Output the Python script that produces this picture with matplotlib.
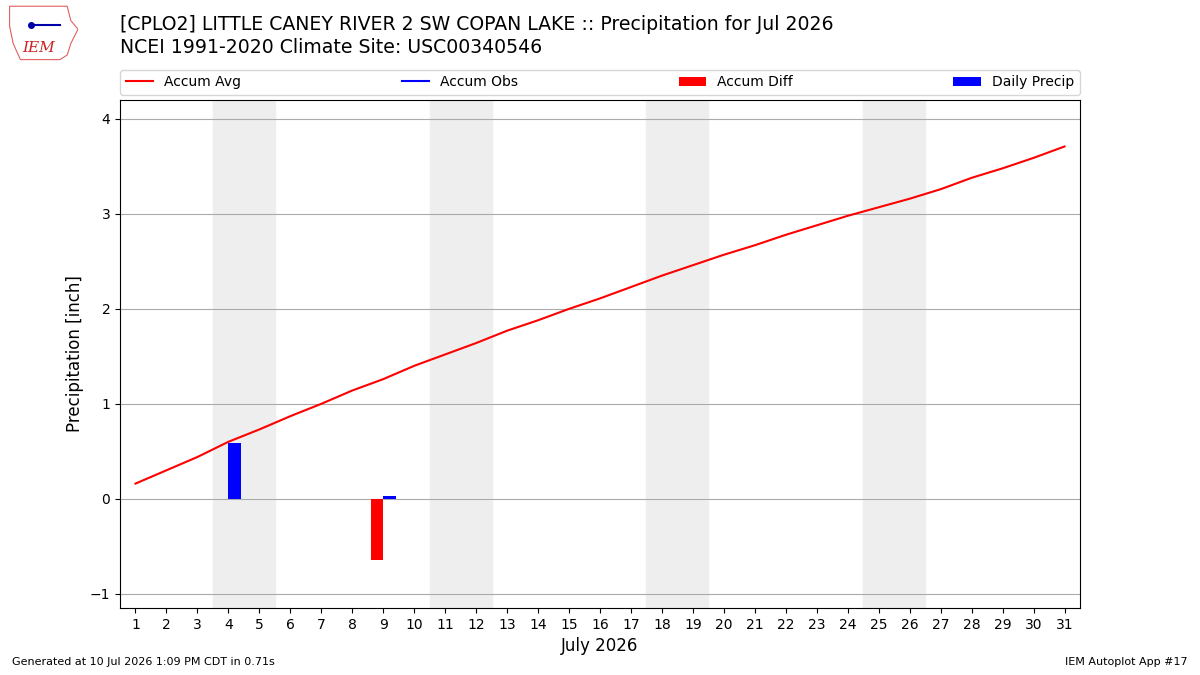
import numpy as np
import matplotlib.pyplot as plt
from matplotlib.patches import Polygon

days = np.arange(1, 32)
accum_avg = [0.16, 0.30, 0.44, 0.60, 0.73, 0.87, 1.00, 1.14, 1.26, 1.40,
             1.52, 1.64, 1.77, 1.88, 2.00, 2.11, 2.23, 2.35, 2.46, 2.57,
             2.67, 2.78, 2.88, 2.98, 3.07, 3.16, 3.26, 3.38, 3.48, 3.59, 3.71]
precip_days = [4, 9]
precip_vals = [0.59, 0.03]
diff_days = [9]
diff_vals = [-0.64]
weekends = [4, 11, 18, 25]

fig = plt.figure(figsize=(12, 6.75), dpi=100)
ax = fig.add_axes([0.1, 0.0993, 0.8, 0.7526])

for d in weekends:
    ax.axvspan(d - 0.5, d + 1.5, color='#eeeeee', zorder=0)

ax.plot(days, accum_avg, color='r', label='Accum Avg', zorder=3)
ax.plot([], [], color='b', label='Accum Obs')
ax.bar(diff_days, diff_vals, width=-0.4, align='edge', color='r', label='Accum Diff', zorder=3)
ax.bar(precip_days, precip_vals, width=0.4, align='edge', color='b', label='Daily Precip', zorder=3)

ax.set_xlim(0.5, 31.5)
ax.set_ylim(-1.15, 4.2)
ax.set_xticks(days)
ax.set_yticks([-1, 0, 1, 2, 3, 4])
ax.grid(axis='y', color='#aaaaaa', zorder=1)
ax.set_axisbelow(True)
ax.set_xlabel('July 2026', fontsize=12)
ax.set_ylabel('Precipitation [inch]', fontsize=12)
ax.legend(loc='lower left', bbox_to_anchor=(0, 1.01, 1, 0.05), ncol=4,
          mode='expand', borderaxespad=0, fontsize=10)

fig.text(0.1, 0.963, '[CPLO2] LITTLE CANEY RIVER 2 SW COPAN LAKE :: Precipitation for Jul 2026',
         fontsize=13.6, va='center')
fig.text(0.1, 0.929, 'NCEI 1991-2020 Climate Site: USC00340546', fontsize=13.6, va='center')
fig.text(0.01, 0.015, 'Generated at 10 Jul 2026 1:09 PM CDT in 0.71s', fontsize=8)
fig.text(0.99, 0.015, 'IEM Autoplot App #17', fontsize=8, ha='right')

# rough logo
lax = fig.add_axes([0.005, 0.91, 0.06, 0.085])
lax.axis('off')
lax.set_xlim(0, 1)
lax.set_ylim(0, 1)
outline = [(0.05, 0.95), (0.85, 0.95), (0.9, 0.7), (1.0, 0.55), (0.9, 0.3),
           (0.85, 0.1), (0.75, 0.02), (0.2, 0.02), (0.1, 0.3), (0.05, 0.6)]
lax.add_patch(Polygon(outline, closed=True, fill=False, edgecolor='#e06060', lw=0.8))
lax.plot([0.35, 0.75], [0.62, 0.62], color='#0000aa', lw=1.5)
lax.plot([0.35], [0.62], 'o', color='#0000aa', ms=4)
lax.text(0.45, 0.22, 'IEM', color='#cc2222', fontsize=11, style='italic',
         family='DejaVu Serif', ha='center', va='center')

fig.savefig('out.png')
